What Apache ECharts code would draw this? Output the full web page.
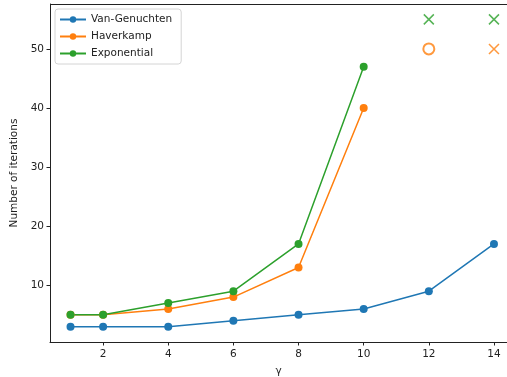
<!DOCTYPE html>
<html>
<head>
<meta charset="utf-8">
<script src="https://cdn.jsdelivr.net/npm/echarts@6/dist/echarts.min.js"></script>
<style>
  html, body { margin: 0; padding: 0; background: #fff; }
  #chart { width: 507px; height: 377px; }
</style>
</head>
<body>
<div id="chart"></div>
<script>
// gamma values and iteration counts
const gammas = [1, 2, 4, 6, 8, 10, 12, 14]
const vanGenuchten = [3, 3, 3, 4, 5, 6, 9, 17]
const haverkamp = [5, 5, 6, 8, 13, 40]
const exponential = [5, 5, 7, 9, 17, 47]
// markers for runs that did not converge
const haverkampOpen = [[12, 50]]
const haverkampCross = [[14, 50]]
const exponentialCross = [[12, 55], [14, 55]]
const xTicks = [2, 4, 6, 8, 10, 12, 14]
const yTicks = [10, 20, 30, 40, 50]

const blue = '#1f77b4'
const orange = '#ff7f0e'
const green = '#2ca02c'
const cross = 'path://M0,0L10,10M10,0L0,10'

const pairs = (ys) => ys.map((y, i) => [gammas[i], y])

const lineSeries = (name, ys, color) => ({
  name: name,
  type: 'line',
  data: pairs(ys),
  symbol: 'circle',
  symbolSize: 8,
  lineStyle: { width: 1.5, color: color },
  itemStyle: { color: color },
  emphasis: { disabled: true },
  z: 3
})

const markSeries = (data, symbol, color, size) => ({
  type: 'scatter',
  data: data,
  symbol: symbol,
  symbolSize: size,
  itemStyle: { color: color, borderColor: color, borderWidth: 1.5 },
  emphasis: { disabled: true }
})

const myChart = echarts.init(document.getElementById('chart'))
const axisText = { color: '#222', fontSize: 10.5, fontFamily: 'DejaVu Sans' }

const option = {
  animation: false,
  grid: { left: 50, right: 0, top: 4, bottom: 35, outerBoundsMode: 'none', containLabel: false },
  legend: {
    data: ['Van-Genuchten', 'Haverkamp', 'Exponential'],
    orient: 'vertical',
    left: 55,
    top: 9,
    itemWidth: 26,
    itemHeight: 8,
    itemGap: 6,
    padding: [5, 9, 5, 4],
    borderColor: '#d4d4d4',
    borderWidth: 1,
    borderRadius: 3,
    textStyle: { color: '#222', fontSize: 10.5, fontFamily: 'DejaVu Sans' }
  },
  xAxis: {
    type: 'value',
    min: 0.37,
    max: 14.4,
    name: 'γ',
    nameLocation: 'middle',
    nameGap: 24,
    nameTextStyle: { color: '#222', fontSize: 10.5, fontFamily: 'DejaVu Sans' },
    axisLine: { show: true, onZero: false, lineStyle: { color: '#222', width: 1 } },
    axisTick: { show: true, customValues: xTicks, length: 3.5, lineStyle: { color: '#222' } },
    axisLabel: { customValues: xTicks, margin: 7, ...axisText },
    splitLine: { show: false }
  },
  yAxis: {
    type: 'value',
    min: 0.4,
    max: 57.6,
    name: 'Number of iterations',
    nameLocation: 'middle',
    nameGap: 26,
    nameTextStyle: { color: '#222', fontSize: 10.5, fontFamily: 'DejaVu Sans' },
    axisLine: { show: true, onZero: false, lineStyle: { color: '#222', width: 1 } },
    axisTick: { show: true, customValues: yTicks, length: 3.5, lineStyle: { color: '#222' } },
    axisLabel: { customValues: yTicks, margin: 6, padding: [3, 0, 0, 0], ...axisText },
    splitLine: { show: false }
  },
  graphic: [
    { type: 'line', shape: { x1: 50, y1: 4.5, x2: 507, y2: 4.5 }, style: { stroke: '#222', lineWidth: 1 } }
  ],
  series: [
    lineSeries('Van-Genuchten', vanGenuchten, blue),
    lineSeries('Haverkamp', haverkamp, orange),
    lineSeries('Exponential', exponential, green),
    markSeries(haverkampOpen, 'emptyCircle', orange, 11),
    markSeries(haverkampCross, cross, orange, 10),
    markSeries(exponentialCross, cross, green, 10)
  ]
}
myChart.setOption(option)
</script>
</body>
</html>
